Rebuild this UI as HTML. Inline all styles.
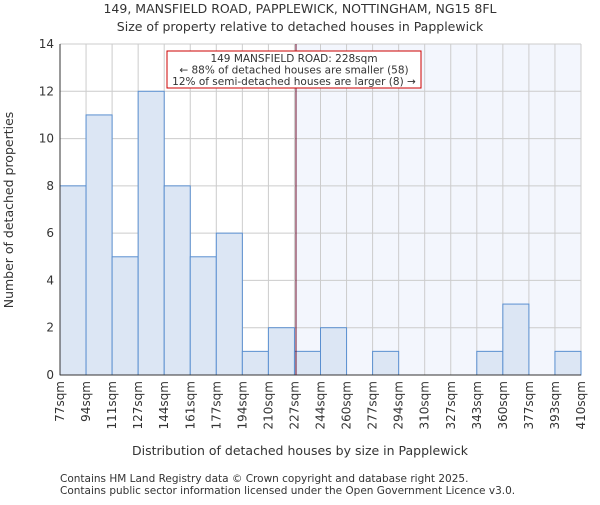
<!DOCTYPE html>
<html><head><meta charset="utf-8"><style>body{margin:0;background:#fff}svg text{font-family:"DejaVu Sans","Liberation Sans",sans-serif;fill:#333}</style></head>
<body>
<svg id="c" width="600" height="500">
<text x="300" y="13" text-anchor="middle" font-size="12.5">149, MANSFIELD ROAD, PAPPLEWICK, NOTTINGHAM, NG15 8FL</text>
<text x="300" y="31" text-anchor="middle" font-size="12.5">Size of property relative to detached houses in Papplewick</text>
<text x="300" y="455" text-anchor="middle" font-size="12.5">Distribution of detached houses by size in Papplewick</text>
<text transform="translate(13,210) rotate(-90)" text-anchor="middle" font-size="12.5">Number of detached properties</text>
<text x="60" y="482" font-size="10.5">Contains HM Land Registry data © Crown copyright and database right 2025.</text>
<text x="60" y="494" font-size="10.5">Contains public sector information licensed under the Open Government Licence v3.0.</text>
<g id="plot"></g>
</svg>
<script>
const labels=["77sqm","94sqm","111sqm","127sqm","144sqm","161sqm","177sqm","194sqm","210sqm","227sqm","244sqm","260sqm","277sqm","294sqm","310sqm","327sqm","343sqm","360sqm","377sqm","393sqm","410sqm"];
const edges=[77,94,111,127,144,161,177,194,210,227,244,260,277,294,310,327,343,360,377,393,410];
const counts=[8,11,5,12,8,5,6,1,2,1,2,0,1,0,0,0,1,3,0,1];
const yTicks=[0,2,4,6,8,10,12,14];
const subject=228;
const L=60,R=581,T=44,B=375,yMax=14;
const n=counts.length,bw=(R-L)/n;
const xi=i=>L+i*bw;
const xv=v=>{let i=0;while(i<n-1&&v>edges[i+1])i++;return xi(i)+(v-edges[i])/(edges[i+1]-edges[i])*bw;};
const y=v=>B-(v/yMax)*(B-T);
const g=document.getElementById('plot');const NS="http://www.w3.org/2000/svg";
function mk(t,a){const e=document.createElementNS(NS,t);for(const k in a)e.setAttribute(k,a[k]);g.appendChild(e);return e;}
const sx=xv(subject);
let e=mk('rect',{x:sx,y:T,width:R-sx,height:B-T,fill:'#f3f6fd'});


yTicks.forEach(t=>{let l=mk('line',{x1:L,x2:R,y1:y(t),y2:y(t),stroke:'#ccc'});


let tx=mk('text',{x:L-6,y:y(t)+4,'text-anchor':'end','font-size':'12'});tx.textContent=t;

});
labels.forEach((s,i)=>{let l=mk('line',{x1:xi(i),x2:xi(i),y1:T,y2:B,stroke:'#ccc'});


let tx=mk('text',{transform:`translate(${xi(i)+4},${B+6}) rotate(-90)`,'text-anchor':'end','font-size':'12'});tx.textContent=s;

});
counts.forEach((c,i)=>{if(!c)return;let r=mk('rect',{x:xi(i),y:y(c),width:bw,height:B-y(c),fill:'#dce6f4',stroke:'#5a8fd0','stroke-width':1});

});
e=mk('line',{x1:L,x2:L,y1:T,y2:B,stroke:'#333'});
e=mk('line',{x1:L,x2:R,y1:B,y2:B,stroke:'#333'});
e=mk('line',{x1:sx,x2:sx,y1:T,y2:B,stroke:'#6a0a2a','stroke-width':1});


e=mk('rect',{x:167,y:51,width:254,height:37,fill:'#fff',stroke:'#c00','stroke-width':1});


["149 MANSFIELD ROAD: 228sqm","← 88% of detached houses are smaller (58)","12% of semi-detached houses are larger (8) →"].forEach((s,i)=>{let t=mk('text',{x:294,y:62+i*11.5,'text-anchor':'middle','font-size':'10.5'});t.textContent=s;

});
</script>
</body></html>
